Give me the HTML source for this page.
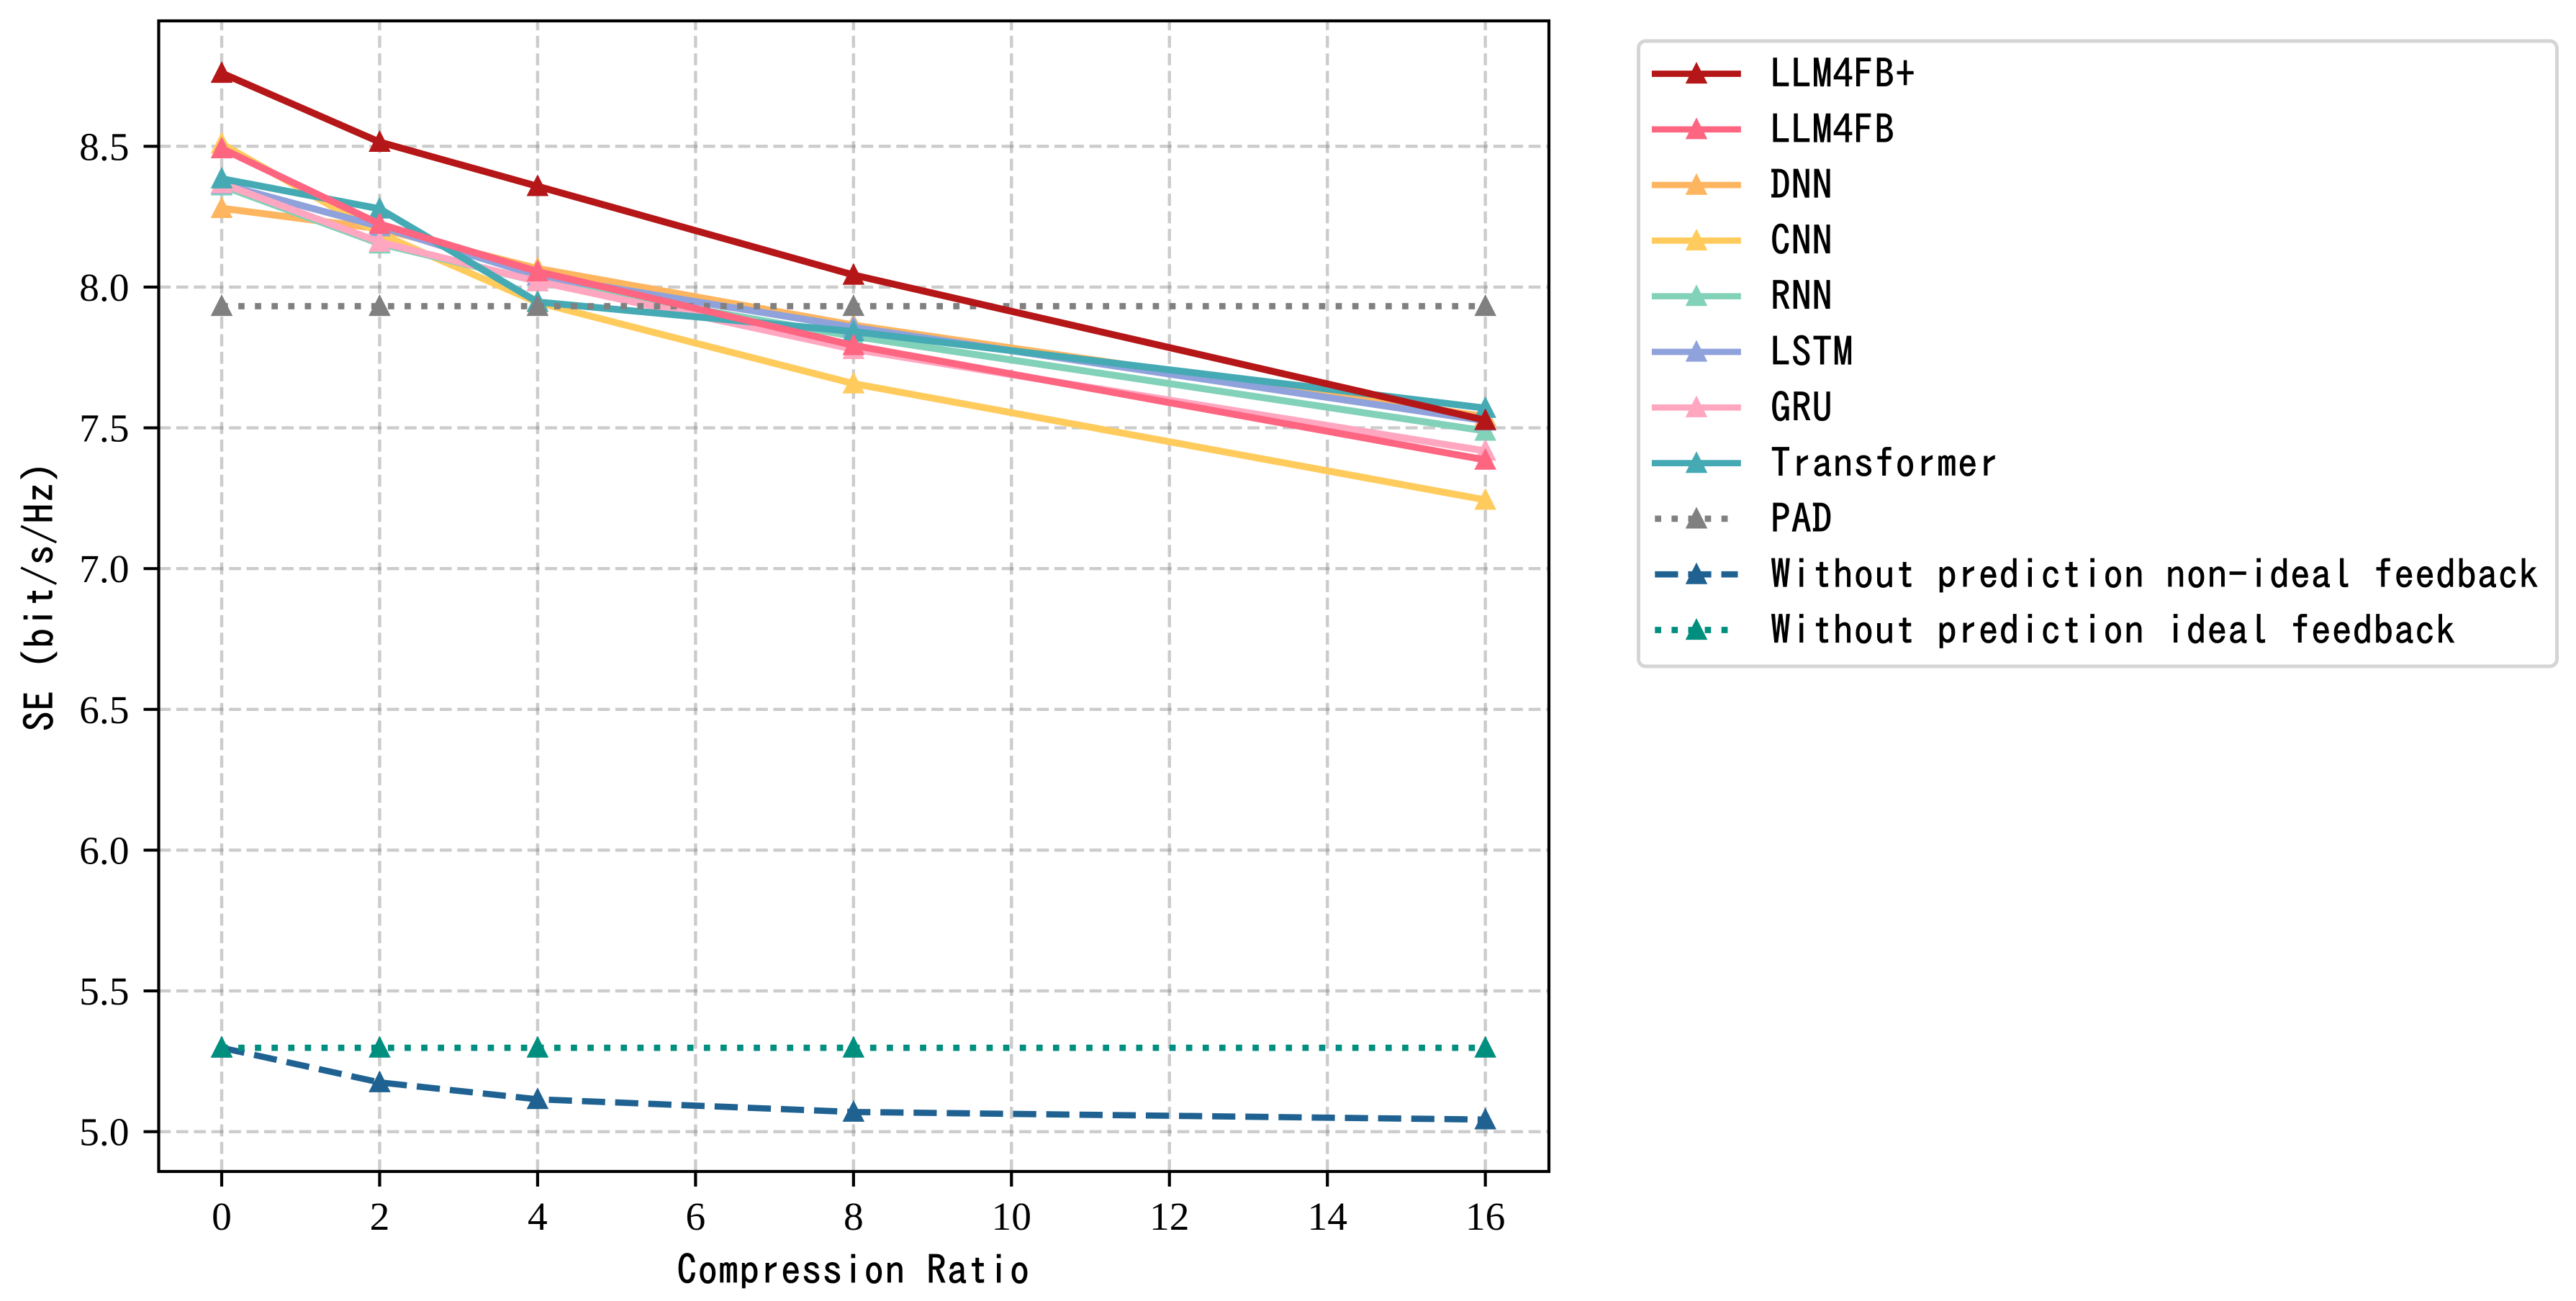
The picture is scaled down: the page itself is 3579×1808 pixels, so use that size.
<!DOCTYPE html>
<html lang="en">
<head>
<meta charset="utf-8">
<title>SE vs Compression Ratio</title>
<style>
  html, body { margin: 0; padding: 0; background: #fff; }
  body { width: 3579px; height: 1808px; overflow: hidden; }
  svg { display: block; }
  .tick-text { font-family: "Liberation Serif", serif; font-size: 55.5px; fill: #000; }
  .hei-text { font-family: "IPAGothic", "WenQuanYi Zen Hei", monospace; font-size: 55.5px; letter-spacing: 1.13px; fill: #000; stroke: #000; stroke-width: 0.8px; }
</style>
</head>
<body>
<svg id="chart" xmlns="http://www.w3.org/2000/svg" width="3579" height="1808" viewBox="0 0 3579 1808">
  <rect x="0" y="0" width="3579" height="1808" fill="#ffffff"></rect>
  <g id="grid"></g>
  <g id="series"></g>
  <g id="axes"></g>
  <g id="legend"></g>
</svg>
<script>
// ---- data ----
const categories = [0, 2, 4, 8, 16];
const xTickLabels = [0, 2, 4, 6, 8, 10, 12, 14, 16];
const yTickLabels = ['5.0', '5.5', '6.0', '6.5', '7.0', '7.5', '8.0', '8.5'];
const llm4fbPlus = [8.760, 8.515, 8.358, 8.043, 7.527];
const llm4fb = [8.492, 8.224, 8.055, 7.793, 7.386];
const dnn = [8.280, 8.207, 8.066, 7.865, 7.540];
const cnn = [8.509, 8.190, 7.945, 7.657, 7.244];
const rnn = [8.360, 8.154, 8.020, 7.825, 7.489];
const lstm = [8.366, 8.215, 8.040, 7.857, 7.525];
const gru = [8.368, 8.160, 8.020, 7.779, 7.418];
const transformer = [8.385, 8.278, 7.947, 7.842, 7.570];
const pad = [7.932, 7.932, 7.932, 7.932, 7.932];
const nonIdeal = [5.298, 5.175, 5.115, 5.070, 5.043];
const ideal = [5.298, 5.298, 5.298, 5.298, 5.298];

// ---- series styling (legend order) ----
const seriesList = [
  { key: 'llm4fb-plus', label: 'LLM4FB+', values: llm4fbPlus, color: '#b51617', style: 'solid', order: 8 },
  { key: 'llm4fb', label: 'LLM4FB', values: llm4fb, color: '#fd6581', style: 'solid', order: 7 },
  { key: 'dnn', label: 'DNN', values: dnn, color: '#feb55f', style: 'solid', order: 0 },
  { key: 'cnn', label: 'CNN', values: cnn, color: '#ffcb5d', style: 'solid', order: 1 },
  { key: 'rnn', label: 'RNN', values: rnn, color: '#82d1b9', style: 'solid', order: 2 },
  { key: 'lstm', label: 'LSTM', values: lstm, color: '#8fa2db', style: 'solid', order: 3 },
  { key: 'gru', label: 'GRU', values: gru, color: '#ffa6c0', style: 'solid', order: 4 },
  { key: 'transformer', label: 'Transformer', values: transformer, color: '#45aab4', style: 'solid', order: 5 },
  { key: 'pad', label: 'PAD', values: pad, color: '#808080', style: 'dotted', order: 6 },
  { key: 'non-ideal', label: 'Without prediction non-ideal feedback', values: nonIdeal, color: '#1f6291', style: 'dashed', order: 9 },
  { key: 'ideal', label: 'Without prediction ideal feedback', values: ideal, color: '#008f7f', style: 'dotted', order: 10 }
];

// ---- layout ----
const SVGNS = 'http://www.w3.org/2000/svg';
const plot = { left: 220.5, right: 2152, top: 29, bottom: 1628 };
const LINE_W = 8.7;
const SOLID_LINE_W = 9.6;
const dashFor = { solid: null, dashed: '32.2 13.9', dotted: '8.7 14.4' };

function xScale(v) { return 308 + 109.73 * v; }
function yScale(v) { return 1572.7 - 391.26 * (v - 5); }

function make(tag, attrs, parent) {
  const el = document.createElementNS(SVGNS, tag);
  for (const k in attrs) el.setAttribute(k, attrs[k]);
  parent.appendChild(el);
  return el;
}

function trianglePoints(cx, cy) {
  return (cx) + ',' + (cy - 16.5) + ' ' + (cx - 15.3) + ',' + (cy + 13.6) + ' ' + (cx + 15.3) + ',' + (cy + 13.6);
}

// ---- grid ----
function drawGrid() {
  const g = document.getElementById('grid');
  xTickLabels.forEach(function (t) {
    const ln = make('line', { x1: xScale(t), x2: xScale(t), y1: plot.bottom, y2: plot.top, stroke: '#808080', 'stroke-opacity': 0.4, 'stroke-width': 4.4, 'stroke-dasharray': '16.7 7.7' }, g);
    
    
  });
  yTickLabels.forEach(function (t) {
    const y = yScale(parseFloat(t));
    const ln = make('line', { x1: plot.left, x2: plot.right, y1: y, y2: y, stroke: '#808080', 'stroke-opacity': 0.4, 'stroke-width': 4.4, 'stroke-dasharray': '16.7 7.7' }, g);
    
    
  });
}

// ---- series ----
function drawSeries() {
  const root = document.getElementById('series');
  const sorted = seriesList.slice().sort(function (a, b) { return a.order - b.order; });
  sorted.forEach(function (s) {
    const g = make('g', {}, root);
    
    
    const pts = s.values.map(function (v, i) { return xScale(categories[i]) + ',' + yScale(v); }).join(' ');
    const line = make('polyline', { points: pts, fill: 'none', stroke: s.color, 'stroke-width': s.style === 'solid' ? SOLID_LINE_W : LINE_W, 'stroke-linejoin': 'round', 'stroke-linecap': s.style === 'solid' ? 'square' : 'butt' }, g);
    if (dashFor[s.style]) line.setAttribute('stroke-dasharray', dashFor[s.style]);
    
    
    s.values.forEach(function (v, i) {
      const m = make('polygon', { points: trianglePoints(xScale(categories[i]), yScale(v)), fill: s.color }, g);
      
      
    });
  });
}

// ---- axes ----
function drawAxes() {
  const g = document.getElementById('axes');
  const frame = make('rect', { x: plot.left, y: plot.top, width: plot.right - plot.left, height: plot.bottom - plot.top, fill: 'none', stroke: '#000', 'stroke-width': 4.2, 'stroke-linejoin': 'miter' }, g);
  
  

  xTickLabels.forEach(function (t) {
    const x = xScale(t);
    const tick = make('line', { x1: x, x2: x, y1: plot.bottom, y2: plot.bottom + 21, stroke: '#000', 'stroke-width': 4.2 }, g);
    
    
    const label = make('text', { x: x, y: 1709, 'text-anchor': 'middle', class: 'tick-text' }, g);
    label.textContent = String(t);
    
    
  });

  yTickLabels.forEach(function (t) {
    const y = yScale(parseFloat(t));
    const tick = make('line', { x1: plot.left - 21, x2: plot.left, y1: y, y2: y, stroke: '#000', 'stroke-width': 4.2 }, g);
    
    
    const label = make('text', { x: 179.5, y: y + 19, 'text-anchor': 'end', class: 'tick-text' }, g);
    label.textContent = t;
    
    
  });

  const xTitle = make('text', { x: 1186, y: 1785, 'text-anchor': 'middle', class: 'hei-text' }, g);
  xTitle.textContent = 'Compression Ratio';
  
  

  const yTitle = make('text', { x: 0, y: 0, 'text-anchor': 'middle', class: 'hei-text', transform: 'translate(75 828.5) rotate(-90)' }, g);
  yTitle.textContent = 'SE (bit/s/Hz)';
  
  
}

// ---- legend ----
function drawLegend() {
  const g = document.getElementById('legend');
  const box = make('rect', { x: 2276.5, y: 57, width: 1276, height: 869, rx: 10, ry: 10, fill: '#fff', stroke: '#d5d5d5', 'stroke-width': 5 }, g);
  
  

  seriesList.forEach(function (s, i) {
    const y = 102.5 + 77.3 * i;
    const entry = make('g', {}, g);
    
    
    const ln = make('line', { x1: 2299.3, x2: 2414.5, y1: y, y2: y, stroke: s.color, 'stroke-width': LINE_W, 'stroke-linecap': s.style === 'solid' ? 'square' : 'butt' }, entry);
    if (dashFor[s.style]) ln.setAttribute('stroke-dasharray', dashFor[s.style]);
    
    
    const mk = make('polygon', { points: trianglePoints(2357, y), fill: s.color }, entry);
    
    
    const tx = make('text', { x: 2460, y: y + 20, class: 'hei-text' }, entry);
    tx.textContent = s.label;
    
    
  });
}

drawGrid();
drawSeries();
drawAxes();
drawLegend();
</script>
</body>
</html>
